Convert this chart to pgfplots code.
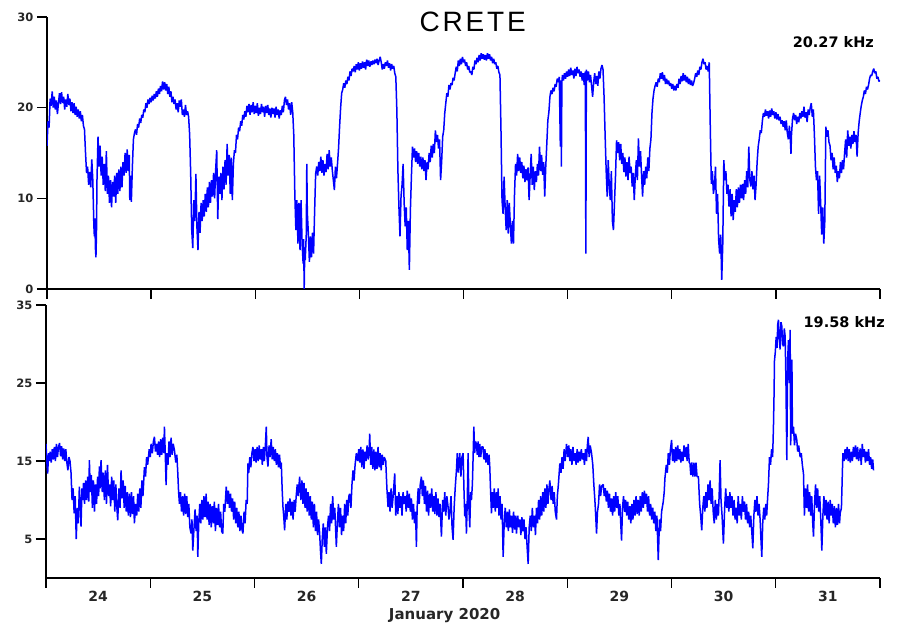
\documentclass[border=0pt]{standalone}
\usepackage{fontspec}
\setmainfont{Liberation Sans}
\newfontfamily\dvb{DejaVu Sans}
\usepackage{pgfplots}
\pgfplotsset{compat=1.18}
\pgfplotsset{
  panel/.style={
    scale only axis, axis lines=left, clip mode=individual,
    axis line style={-, line width=1.4pt, black},
    xmin=0, xmax=8, xtick={0,1,2,3,4,5,6,7,8},
    tick align=outside, major tick length=10pt,
    tick style={line width=1.4pt, black},
    /pgf/number format/assume math mode=true,
    yticklabel style={font=\dvb\bfseries\fontsize{11.5}{12}\selectfont, text=black!85},
    xticklabel style={font=\dvb\bfseries\fontsize{14}{15}\selectfont, text=black!85},
  },
  sig/.style={blue, line width=1.5pt, mark=none, line join=bevel},
}
\begin{document}
\begin{tikzpicture}[x=1pt,y=1pt]
\path[use as bounding box] (0,0) rectangle (900,623);
\begin{axis}[panel, at={(47pt,334pt)}, anchor=south west, width=833pt, height=272pt,
  ymin=0, ymax=30, ytick={0,10,20,30}, xticklabels={}]
\addplot[sig] coordinates {
(0.000,15.8)(0.010,18.5)(0.020,17.8)(0.030,21.0)(0.040,20.2)(0.050,21.8)(0.060,20.0)(0.070,21.2)(0.080,19.8)(0.090,20.8)
(0.100,19.3)(0.110,20.5)(0.120,21.6)(0.130,20.4)(0.140,21.7)(0.150,20.5)(0.160,21.2)(0.170,19.8)(0.180,20.9)(0.190,20.1)
(0.200,21.5)(0.210,20.3)(0.220,21.0)(0.230,19.6)(0.240,20.6)(0.250,19.4)(0.260,20.5)(0.270,19.2)(0.280,20.1)(0.290,19.0)
(0.300,19.8)(0.310,18.8)(0.320,19.6)(0.330,18.5)(0.340,19.2)(0.350,18.0)(0.360,17.6)(0.370,15.0)(0.380,12.8)(0.390,13.5)
(0.400,11.5)(0.410,12.9)(0.420,11.2)(0.430,14.3)(0.440,12.0)(0.450,7.0)(0.455,5.8)(0.460,7.8)(0.465,4.5)(0.470,3.5)
(0.475,6.0)(0.480,12.0)(0.490,16.8)(0.500,13.5)(0.510,15.8)(0.520,12.5)(0.530,14.6)(0.540,11.5)(0.550,13.8)(0.560,10.8)
(0.570,15.2)(0.580,10.5)(0.590,12.5)(0.600,9.5)(0.610,12.0)(0.620,9.0)(0.630,11.8)(0.640,10.2)(0.650,12.5)(0.660,9.5)
(0.670,12.8)(0.680,10.5)(0.690,13.2)(0.700,10.8)(0.710,13.5)(0.720,11.2)(0.730,14.0)(0.740,12.5)(0.750,15.0)(0.760,12.8)
(0.770,15.4)(0.780,13.0)(0.790,14.8)(0.795,9.8)(0.800,12.5)(0.810,9.6)(0.820,13.5)(0.830,16.5)(0.840,17.2)(0.850,17.6)
(0.860,17.0)(0.870,18.2)(0.880,17.8)(0.890,18.8)(0.900,18.3)(0.910,19.2)(0.920,18.9)(0.930,19.8)(0.940,19.5)(0.950,20.5)
(0.960,20.0)(0.970,20.9)(0.980,20.4)(0.990,21.1)(1.000,20.6)(1.010,21.3)(1.020,20.8)(1.030,21.5)(1.040,21.0)(1.050,21.8)
(1.060,21.2)(1.070,22.1)(1.080,21.5)(1.090,22.4)(1.100,21.8)(1.110,22.9)(1.120,22.0)(1.130,22.8)(1.140,21.9)(1.150,22.6)
(1.160,21.5)(1.170,22.3)(1.180,21.2)(1.190,21.8)(1.200,20.6)(1.210,21.2)(1.220,20.4)(1.230,20.9)(1.240,19.8)(1.250,20.5)
(1.260,19.5)(1.270,20.8)(1.280,20.1)(1.290,20.9)(1.300,19.2)(1.310,19.8)(1.320,19.0)(1.330,20.3)(1.340,19.2)(1.350,19.6)
(1.360,19.0)(1.370,17.0)(1.380,12.7)(1.390,6.5)(1.400,4.5)(1.410,9.8)(1.420,7.5)(1.430,12.7)(1.440,6.8)(1.450,4.3)
(1.460,8.5)(1.470,6.2)(1.480,9.5)(1.490,7.5)(1.500,9.8)(1.510,8.0)(1.520,10.5)(1.530,8.5)(1.540,11.2)(1.550,9.0)
(1.560,11.8)(1.570,9.5)(1.580,12.0)(1.590,10.2)(1.600,12.8)(1.610,10.0)(1.620,13.2)(1.630,15.3)(1.640,7.7)(1.650,12.4)
(1.660,10.5)(1.670,12.8)(1.680,9.8)(1.690,13.5)(1.700,11.0)(1.710,14.2)(1.720,11.5)(1.730,16.0)(1.740,12.5)(1.750,14.8)
(1.760,10.5)(1.770,14.5)(1.780,9.8)(1.790,13.8)(1.800,15.3)(1.810,15.0)(1.820,17.0)(1.830,16.5)(1.840,17.8)(1.850,17.4)
(1.860,18.5)(1.870,18.0)(1.880,19.2)(1.890,18.7)(1.900,19.6)(1.910,19.0)(1.920,20.2)(1.930,19.5)(1.940,20.4)(1.950,19.2)
(1.960,20.3)(1.970,19.5)(1.980,20.6)(1.990,19.3)(2.000,20.2)(2.010,19.4)(2.020,20.5)(2.030,19.1)(2.040,20.0)(2.050,19.3)
(2.060,20.4)(2.070,19.5)(2.080,20.1)(2.090,19.0)(2.100,20.2)(2.110,19.4)(2.120,20.3)(2.130,19.2)(2.140,19.9)(2.150,18.9)
(2.160,20.0)(2.170,19.3)(2.180,19.9)(2.190,18.9)(2.200,20.1)(2.210,19.2)(2.220,19.8)(2.230,18.8)(2.240,19.7)(2.250,19.2)
(2.260,20.2)(2.270,19.5)(2.280,20.8)(2.290,21.2)(2.300,20.3)(2.310,20.9)(2.320,19.8)(2.330,20.5)(2.340,19.2)(2.350,20.6)
(2.360,19.5)(2.370,17.0)(2.380,10.5)(2.390,6.5)(2.400,9.8)(2.410,5.0)(2.420,9.5)(2.430,4.3)(2.440,9.8)(2.450,5.0)
(2.460,2.8)(2.465,5.5)(2.470,0.0)(2.475,4.0)(2.480,3.2)(2.490,6.0)(2.495,13.8)(2.500,8.5)(2.510,6.1)(2.520,3.0)
(2.530,5.8)(2.540,3.5)(2.550,6.2)(2.560,3.9)(2.570,8.5)(2.580,12.7)(2.590,13.5)(2.600,12.5)(2.610,14.0)(2.620,13.0)
(2.630,14.6)(2.640,12.8)(2.650,14.2)(2.660,12.5)(2.670,13.8)(2.680,12.9)(2.690,14.9)(2.700,13.2)(2.710,15.3)(2.720,13.5)
(2.730,14.5)(2.740,13.1)(2.750,12.0)(2.760,10.9)(2.770,13.5)(2.780,12.2)(2.790,13.8)(2.800,15.5)(2.810,17.9)(2.820,20.0)
(2.830,21.6)(2.840,22.0)(2.850,22.7)(2.860,22.2)(2.870,23.0)(2.880,22.6)(2.890,23.4)(2.900,23.0)(2.910,24.0)(2.920,23.5)
(2.930,24.3)(2.940,24.0)(2.950,24.6)(2.960,23.9)(2.970,24.8)(2.980,24.2)(2.990,25.0)(3.000,24.1)(3.010,24.9)(3.020,24.3)
(3.030,25.1)(3.040,24.4)(3.050,25.0)(3.060,24.2)(3.070,25.3)(3.080,24.6)(3.090,25.2)(3.100,24.5)(3.110,25.1)(3.120,24.7)
(3.130,25.2)(3.140,24.8)(3.150,25.3)(3.160,24.9)(3.170,25.4)(3.180,24.7)(3.190,25.2)(3.200,25.6)(3.210,25.0)(3.220,24.2)
(3.230,24.8)(3.240,24.3)(3.250,25.0)(3.260,24.6)(3.270,25.2)(3.280,24.4)(3.290,24.9)(3.300,24.1)(3.310,24.8)(3.320,24.3)
(3.330,24.6)(3.340,23.8)(3.350,23.4)(3.360,19.7)(3.370,13.1)(3.380,9.0)(3.390,5.8)(3.400,10.2)(3.410,11.5)(3.420,13.8)
(3.430,9.5)(3.440,6.9)(3.450,9.0)(3.460,4.3)(3.470,7.5)(3.480,2.1)(3.490,8.7)(3.500,12.5)(3.510,15.7)(3.520,14.5)
(3.530,15.5)(3.540,14.0)(3.550,15.2)(3.560,13.8)(3.570,15.0)(3.580,13.5)(3.590,14.6)(3.600,13.2)(3.610,14.5)(3.620,13.0)
(3.630,14.2)(3.640,12.0)(3.650,14.0)(3.660,13.2)(3.670,15.0)(3.680,14.0)(3.690,15.8)(3.700,14.5)(3.710,16.0)(3.720,15.0)
(3.730,17.5)(3.740,16.2)(3.750,17.0)(3.760,15.5)(3.770,16.5)(3.780,12.0)(3.790,14.0)(3.800,16.8)(3.810,17.5)(3.820,19.4)
(3.830,20.5)(3.840,21.6)(3.850,21.2)(3.860,22.5)(3.870,22.0)(3.880,22.7)(3.890,22.5)(3.900,23.3)(3.910,23.0)(3.920,23.8)
(3.930,24.5)(3.940,24.0)(3.950,25.2)(3.960,24.6)(3.970,25.4)(3.980,24.8)(3.990,25.6)(4.000,25.0)(4.010,25.3)(4.020,24.6)
(4.030,25.0)(4.040,24.2)(4.050,24.6)(4.060,23.9)(4.070,24.0)(4.080,23.6)(4.090,24.5)(4.100,24.2)(4.110,25.2)(4.120,24.8)
(4.130,25.5)(4.140,25.0)(4.150,25.8)(4.160,25.2)(4.170,26.0)(4.180,25.4)(4.190,25.9)(4.200,25.3)(4.210,25.8)(4.220,25.2)
(4.230,26.0)(4.240,25.4)(4.250,25.9)(4.260,25.2)(4.270,25.6)(4.280,24.9)(4.290,25.4)(4.300,24.8)(4.310,25.0)(4.320,24.3)
(4.330,24.6)(4.340,23.9)(4.350,23.6)(4.360,17.5)(4.370,9.8)(4.380,8.3)(4.390,12.4)(4.400,9.0)(4.410,6.5)(4.420,9.8)
(4.430,6.1)(4.440,9.5)(4.450,7.0)(4.460,5.0)(4.470,7.5)(4.480,5.0)(4.490,10.5)(4.500,13.8)(4.510,12.5)(4.520,14.9)
(4.530,13.0)(4.540,14.5)(4.550,12.8)(4.560,14.0)(4.570,12.2)(4.580,13.6)(4.590,11.8)(4.600,13.2)(4.610,12.0)(4.620,13.4)
(4.630,9.8)(4.640,12.5)(4.650,14.9)(4.660,11.5)(4.670,13.5)(4.680,10.9)(4.690,13.0)(4.700,11.8)(4.710,13.8)(4.720,12.5)
(4.730,15.7)(4.740,13.0)(4.750,14.8)(4.760,12.6)(4.770,14.0)(4.780,10.2)(4.790,13.5)(4.800,16.0)(4.810,18.6)(4.820,19.5)
(4.830,21.2)(4.840,21.9)(4.850,21.5)(4.860,22.2)(4.870,21.8)(4.880,22.6)(4.890,22.3)(4.900,23.2)(4.910,22.8)(4.920,23.4)
(4.930,15.7)(4.935,23.0)(4.940,13.5)(4.945,22.8)(4.950,23.6)(4.960,23.0)(4.970,23.8)(4.980,23.2)(4.990,24.0)(5.000,23.4)
(5.010,24.2)(5.020,23.5)(5.030,24.4)(5.040,23.6)(5.050,24.1)(5.060,23.2)(5.070,24.3)(5.080,23.5)(5.090,24.5)(5.100,23.8)
(5.110,24.2)(5.120,23.4)(5.130,24.0)(5.140,23.0)(5.150,23.8)(5.160,22.5)(5.170,24.0)(5.175,3.9)(5.180,24.2)(5.190,23.0)
(5.200,24.0)(5.210,22.8)(5.220,23.6)(5.230,22.4)(5.240,21.2)(5.250,22.8)(5.260,23.8)(5.270,22.6)(5.280,23.5)(5.290,22.4)
(5.300,24.0)(5.310,23.2)(5.320,24.3)(5.330,24.7)(5.340,24.2)(5.350,21.2)(5.360,17.0)(5.370,13.1)(5.380,10.2)(5.390,14.2)
(5.400,11.3)(5.410,9.8)(5.420,13.0)(5.430,7.5)(5.440,6.5)(5.450,9.5)(5.460,12.5)(5.470,16.4)(5.480,15.0)(5.490,16.2)
(5.500,14.2)(5.510,16.0)(5.520,13.8)(5.530,15.0)(5.540,12.9)(5.550,14.5)(5.560,12.4)(5.570,14.0)(5.580,12.0)(5.590,14.6)
(5.600,12.8)(5.610,13.5)(5.620,11.3)(5.630,12.8)(5.640,9.8)(5.650,12.5)(5.660,14.2)(5.670,12.0)(5.680,16.6)(5.690,13.5)
(5.700,15.2)(5.710,12.6)(5.720,10.2)(5.730,13.0)(5.740,11.5)(5.750,13.5)(5.760,12.2)(5.770,14.5)(5.780,13.0)(5.790,15.5)
(5.800,16.5)(5.810,19.4)(5.820,21.0)(5.830,21.9)(5.840,22.4)(5.850,22.8)(5.860,22.3)(5.870,23.2)(5.880,22.8)(5.890,23.8)
(5.900,23.2)(5.910,23.9)(5.920,23.0)(5.930,23.6)(5.940,22.6)(5.950,23.2)(5.960,22.6)(5.970,23.0)(5.980,22.4)(5.990,22.7)
(6.000,22.1)(6.010,22.6)(6.020,21.9)(6.030,22.4)(6.040,21.9)(6.050,22.6)(6.060,22.2)(6.070,23.2)(6.080,22.6)(6.090,23.5)
(6.100,22.9)(6.110,23.8)(6.120,23.0)(6.130,23.6)(6.140,22.8)(6.150,23.4)(6.160,22.6)(6.170,23.2)(6.180,22.5)(6.190,23.0)
(6.200,22.4)(6.210,22.7)(6.220,23.2)(6.230,23.8)(6.240,23.4)(6.250,24.1)(6.260,23.6)(6.270,24.5)(6.280,24.2)(6.290,25.0)
(6.300,25.4)(6.310,24.8)(6.320,25.0)(6.330,24.2)(6.340,24.6)(6.350,24.0)(6.360,25.0)(6.370,17.9)(6.380,11.6)(6.390,13.0)
(6.400,10.5)(6.410,11.3)(6.420,13.5)(6.430,8.3)(6.440,10.5)(6.450,5.5)(6.460,3.9)(6.470,6.0)(6.480,1.0)(6.490,5.0)
(6.500,14.2)(6.510,12.0)(6.520,13.0)(6.530,10.5)(6.540,11.5)(6.550,9.1)(6.560,11.0)(6.570,8.0)(6.580,10.5)(6.590,7.6)
(6.600,9.8)(6.610,8.5)(6.620,11.0)(6.630,9.0)(6.640,11.2)(6.650,9.5)(6.660,11.5)(6.670,10.0)(6.680,11.6)(6.690,9.8)
(6.700,12.0)(6.710,10.5)(6.720,13.0)(6.730,11.2)(6.740,15.7)(6.750,12.0)(6.760,11.3)(6.770,13.0)(6.780,11.0)(6.790,12.5)
(6.800,9.8)(6.810,11.5)(6.820,14.0)(6.830,15.7)(6.840,16.5)(6.850,17.5)(6.860,17.2)(6.870,18.5)(6.880,19.4)(6.890,19.0)
(6.900,19.8)(6.910,19.1)(6.920,19.6)(6.930,18.8)(6.940,19.7)(6.950,19.0)(6.960,19.9)(6.970,19.2)(6.980,19.6)(6.990,18.8)
(7.000,19.5)(7.010,18.7)(7.020,19.3)(7.030,18.6)(7.040,19.0)(7.050,18.2)(7.060,18.6)(7.070,17.9)(7.080,18.5)(7.090,17.5)
(7.100,18.6)(7.110,17.2)(7.120,16.5)(7.130,18.0)(7.140,16.2)(7.145,14.9)(7.150,17.0)(7.160,18.8)(7.170,19.4)(7.180,18.6)
(7.190,19.2)(7.200,18.2)(7.210,19.0)(7.220,18.4)(7.230,19.4)(7.240,18.8)(7.250,19.6)(7.260,19.0)(7.270,20.1)(7.280,18.9)
(7.290,19.5)(7.300,18.4)(7.310,19.8)(7.320,19.2)(7.330,20.0)(7.340,20.5)(7.350,19.0)(7.360,19.8)(7.370,17.0)(7.380,13.5)
(7.390,12.0)(7.400,13.0)(7.410,8.3)(7.420,12.5)(7.430,9.5)(7.440,6.0)(7.450,9.0)(7.460,5.0)(7.470,7.5)(7.480,17.9)
(7.490,16.8)(7.500,17.5)(7.510,16.2)(7.520,15.8)(7.530,14.2)(7.540,15.0)(7.550,13.2)(7.560,14.5)(7.570,12.8)(7.580,13.6)
(7.590,11.8)(7.600,13.0)(7.610,12.2)(7.620,14.0)(7.630,12.8)(7.640,14.2)(7.650,13.2)(7.660,15.0)(7.670,16.5)(7.680,14.5)
(7.690,17.5)(7.700,15.8)(7.710,16.8)(7.720,15.5)(7.730,17.0)(7.740,16.0)(7.750,17.4)(7.760,16.2)(7.770,17.0)(7.780,14.6)
(7.790,17.2)(7.800,18.5)(7.810,19.4)(7.820,20.2)(7.830,20.8)(7.840,21.2)(7.850,21.9)(7.860,21.5)(7.870,22.3)(7.880,22.0)
(7.890,22.5)(7.900,23.2)(7.910,23.6)(7.920,23.5)(7.930,24.0)(7.940,24.3)(7.950,23.8)(7.960,24.0)(7.970,23.2)(7.980,23.4)
(7.990,22.9)(8.000,23.0)
};
\node at (rel axis cs:0.511,0.982) {\fontsize{28}{30}\selectfont\addfontfeature{LetterSpace=10}CRETE};
\node at (rel axis cs:0.944,0.908) {\dvb\bfseries\fontsize{14.5}{16}\selectfont 20.27 kHz};
\end{axis}
\begin{axis}[panel, at={(46pt,45pt)}, anchor=south west, width=834pt, height=273pt,
  ymin=0, ymax=35, ytick={5,15,25,35},
  xticklabels={24,25,26,27,28,29,30,31}, x tick label as interval,
  xlabel={January 2020},
  xlabel style={at={(rel axis cs:0.478,-0.136)}, anchor=center, font=\dvb\bfseries\fontsize{15}{16}\selectfont, text=black!85}]
\addplot[sig] coordinates {
(0.000,17.2)(0.010,14.5)(0.016,13.4)(0.025,16.0)(0.032,15.0)(0.040,16.2)(0.050,14.8)(0.060,16.5)(0.070,15.2)(0.080,16.8)
(0.090,15.0)(0.100,17.2)(0.110,15.5)(0.120,16.8)(0.130,17.3)(0.140,15.6)(0.150,16.9)(0.160,15.2)(0.170,16.6)(0.180,15.0)
(0.190,16.5)(0.200,14.8)(0.210,13.8)(0.220,15.5)(0.230,15.0)(0.240,13.5)(0.250,10.0)(0.260,11.5)(0.270,8.3)(0.280,10.5)
(0.290,5.0)(0.300,9.0)(0.310,7.0)(0.320,11.7)(0.330,9.0)(0.336,6.6)(0.345,11.5)(0.352,10.0)(0.360,12.2)(0.370,9.5)
(0.380,12.5)(0.390,10.0)(0.400,13.0)(0.410,9.8)(0.416,15.1)(0.425,11.0)(0.435,13.2)(0.445,9.0)(0.455,12.5)(0.465,8.5)
(0.475,12.0)(0.485,9.5)(0.495,13.0)(0.505,10.5)(0.512,14.3)(0.520,11.5)(0.528,15.1)(0.540,11.0)(0.550,13.5)(0.560,10.0)
(0.570,13.8)(0.580,9.5)(0.590,14.5)(0.600,10.5)(0.610,12.0)(0.620,9.2)(0.630,13.0)(0.640,10.0)(0.650,12.5)(0.660,8.5)
(0.670,12.0)(0.680,9.0)(0.688,7.4)(0.700,11.5)(0.710,9.0)(0.720,13.8)(0.730,10.2)(0.740,12.5)(0.750,9.0)(0.760,11.8)
(0.770,8.5)(0.780,11.0)(0.790,8.0)(0.800,10.8)(0.810,7.8)(0.820,11.0)(0.830,8.2)(0.840,10.5)(0.848,7.0)(0.860,9.5)
(0.870,8.0)(0.880,10.8)(0.890,8.5)(0.900,11.5)(0.910,9.0)(0.920,12.5)(0.930,10.5)(0.944,14.2)(0.955,13.0)(0.965,15.5)
(0.975,14.5)(0.990,16.5)(1.000,15.5)(1.008,17.2)(1.020,16.0)(1.030,17.5)(1.040,18.1)(1.050,16.2)(1.060,17.2)(1.070,15.8)
(1.080,17.5)(1.090,15.5)(1.100,17.8)(1.110,15.8)(1.120,18.0)(1.130,16.0)(1.136,19.4)(1.145,15.5)(1.152,11.9)(1.160,16.0)
(1.170,14.5)(1.180,17.5)(1.190,15.5)(1.200,18.0)(1.210,15.8)(1.220,17.2)(1.232,16.4)(1.245,14.8)(1.255,15.8)(1.264,13.5)
(1.272,11.0)(1.280,9.5)(1.290,11.0)(1.300,8.5)(1.310,10.5)(1.320,8.0)(1.330,10.8)(1.340,8.2)(1.350,10.5)(1.360,7.8)
(1.370,9.5)(1.380,6.5)(1.392,5.7)(1.400,7.5)(1.408,3.5)(1.420,6.5)(1.430,8.8)(1.440,6.0)(1.450,8.0)(1.456,2.7)
(1.465,7.0)(1.475,9.5)(1.485,7.0)(1.495,10.0)(1.505,7.5)(1.515,10.5)(1.525,7.8)(1.536,10.8)(1.545,7.5)(1.555,9.8)
(1.565,6.8)(1.575,9.5)(1.585,6.5)(1.595,9.2)(1.605,7.0)(1.615,9.8)(1.625,6.0)(1.635,9.0)(1.645,6.8)(1.655,9.5)
(1.665,6.5)(1.675,8.5)(1.685,6.0)(1.696,5.7)(1.705,9.5)(1.715,8.5)(1.729,11.7)(1.740,9.5)(1.750,11.2)(1.760,9.0)
(1.770,10.8)(1.780,8.5)(1.790,10.2)(1.800,7.5)(1.810,9.8)(1.820,7.0)(1.830,9.0)(1.840,6.5)(1.850,8.5)(1.860,6.0)
(1.870,8.0)(1.880,6.2)(1.889,5.7)(1.900,8.5)(1.910,7.0)(1.920,10.0)(1.930,9.5)(1.937,14.7)(1.945,13.5)(1.955,15.5)
(1.965,14.2)(1.975,16.0)(1.985,16.8)(1.995,15.0)(2.005,16.5)(2.015,14.8)(2.025,16.8)(2.035,15.0)(2.045,17.0)(2.055,15.2)
(2.065,16.5)(2.075,14.5)(2.085,16.8)(2.095,15.0)(2.105,17.2)(2.113,19.4)(2.120,15.5)(2.129,14.3)(2.140,17.0)(2.150,15.5)
(2.160,17.8)(2.170,15.2)(2.180,16.8)(2.190,15.0)(2.200,16.5)(2.210,14.5)(2.220,16.0)(2.230,14.2)(2.240,15.8)(2.250,14.0)
(2.257,14.8)(2.265,11.5)(2.273,9.1)(2.280,8.0)(2.289,6.1)(2.300,9.5)(2.310,7.5)(2.320,9.8)(2.330,8.5)(2.340,10.2)
(2.350,8.0)(2.360,9.8)(2.370,7.5)(2.380,10.0)(2.390,8.5)(2.400,10.5)(2.410,12.0)(2.420,10.5)(2.433,13.0)(2.445,10.0)
(2.455,12.5)(2.465,9.5)(2.475,12.2)(2.485,9.0)(2.495,11.5)(2.505,8.5)(2.515,11.0)(2.525,8.0)(2.535,10.5)(2.545,7.5)
(2.555,9.8)(2.565,6.5)(2.575,9.5)(2.585,6.0)(2.595,8.5)(2.605,5.5)(2.615,7.5)(2.625,5.7)(2.633,3.5)(2.641,1.8)
(2.650,5.0)(2.660,7.0)(2.670,4.0)(2.680,6.5)(2.689,3.1)(2.700,6.5)(2.710,8.0)(2.720,6.0)(2.730,9.5)(2.740,7.0)
(2.750,10.5)(2.760,7.5)(2.770,9.0)(2.785,4.0)(2.795,7.0)(2.805,9.5)(2.815,6.5)(2.825,9.0)(2.835,5.5)(2.845,8.0)
(2.855,6.0)(2.865,9.5)(2.875,7.0)(2.885,10.0)(2.895,8.0)(2.905,10.5)(2.913,10.8)(2.925,9.0)(2.935,12.0)(2.945,13.8)
(2.955,12.5)(2.965,14.5)(2.977,16.0)(2.990,15.0)(3.000,16.5)(3.010,14.8)(3.020,16.8)(3.030,14.2)(3.040,16.5)(3.050,14.0)
(3.060,16.2)(3.070,15.0)(3.080,17.0)(3.090,15.2)(3.100,16.5)(3.105,18.5)(3.115,14.5)(3.125,16.8)(3.135,14.0)(3.145,16.5)
(3.155,13.8)(3.165,16.2)(3.175,14.0)(3.185,16.8)(3.195,14.2)(3.205,16.0)(3.215,13.8)(3.225,15.8)(3.235,14.5)(3.245,15.5)
(3.259,15.0)(3.270,11.5)(3.281,9.1)(3.290,11.0)(3.300,8.5)(3.310,11.5)(3.320,9.0)(3.330,10.5)(3.345,13.4)(3.355,8.0)
(3.365,10.5)(3.375,8.2)(3.385,11.0)(3.395,9.0)(3.405,10.5)(3.415,8.0)(3.425,11.0)(3.435,9.5)(3.445,10.5)(3.455,8.5)
(3.465,11.2)(3.475,9.0)(3.485,10.8)(3.495,8.5)(3.505,10.2)(3.515,7.5)(3.525,9.5)(3.535,7.0)(3.545,8.5)(3.553,4.0)
(3.560,9.0)(3.570,11.5)(3.580,9.5)(3.590,12.0)(3.601,13.0)(3.610,10.5)(3.620,12.5)(3.630,9.5)(3.640,11.8)(3.650,8.5)
(3.660,11.2)(3.670,8.0)(3.680,10.8)(3.690,9.0)(3.700,11.5)(3.710,8.5)(3.720,10.5)(3.730,8.2)(3.740,11.0)(3.750,8.0)
(3.760,10.2)(3.770,7.8)(3.780,9.5)(3.793,5.3)(3.805,10.0)(3.815,8.5)(3.825,11.0)(3.835,8.0)(3.845,10.5)(3.857,9.1)
(3.865,7.5)(3.873,8.3)(3.885,10.5)(3.895,6.5)(3.905,4.9)(3.915,9.0)(3.925,11.5)(3.937,13.8)(3.945,16.0)(3.955,13.5)
(3.969,16.0)(3.980,13.0)(3.990,15.5)(4.001,16.0)(4.010,11.0)(4.017,7.9)(4.025,9.5)(4.033,5.7)(4.041,10.0)(4.049,16.0)
(4.057,9.0)(4.065,6.5)(4.073,11.0)(4.081,10.0)(4.090,12.0)(4.097,15.5)(4.104,19.4)(4.112,16.0)(4.120,17.5)(4.129,17.2)
(4.137,15.8)(4.145,17.5)(4.153,15.5)(4.161,17.2)(4.170,15.5)(4.180,16.8)(4.193,16.8)(4.200,15.2)(4.210,16.5)(4.220,14.8)
(4.230,16.0)(4.240,14.5)(4.250,15.8)(4.257,14.2)(4.265,11.0)(4.273,8.3)(4.282,11.0)(4.290,9.0)(4.300,11.5)(4.310,8.5)
(4.320,11.0)(4.330,9.0)(4.337,11.5)(4.345,8.0)(4.355,10.5)(4.365,7.5)(4.375,9.5)(4.385,2.7)(4.395,7.0)(4.405,9.0)
(4.415,6.5)(4.425,8.5)(4.435,6.0)(4.445,8.8)(4.455,6.5)(4.465,8.0)(4.475,5.8)(4.485,8.5)(4.495,6.2)(4.505,8.0)
(4.513,5.7)(4.525,8.0)(4.535,6.5)(4.545,7.5)(4.555,5.5)(4.565,7.8)(4.575,6.0)(4.585,7.5)(4.595,5.0)(4.605,6.5)
(4.615,4.0)(4.625,1.8)(4.635,6.5)(4.645,8.0)(4.655,6.0)(4.665,9.0)(4.675,6.5)(4.685,8.0)(4.695,5.5)(4.705,9.0)
(4.715,7.0)(4.725,10.0)(4.735,7.5)(4.745,10.5)(4.755,8.0)(4.765,11.0)(4.775,8.5)(4.785,11.5)(4.795,9.0)(4.805,12.0)
(4.815,9.5)(4.825,11.5)(4.833,12.5)(4.845,10.0)(4.855,11.8)(4.865,9.5)(4.875,11.0)(4.885,8.5)(4.897,7.5)(4.905,10.5)
(4.915,12.0)(4.929,14.7)(4.940,13.5)(4.950,15.5)(4.960,14.0)(4.970,16.5)(4.980,15.0)(4.993,17.2)(5.005,15.5)(5.015,17.0)
(5.025,15.0)(5.035,16.5)(5.045,14.5)(5.055,16.8)(5.065,15.0)(5.075,16.0)(5.085,14.5)(5.095,16.5)(5.105,14.8)(5.115,16.2)
(5.125,15.0)(5.135,16.5)(5.145,15.2)(5.155,16.0)(5.165,14.5)(5.175,16.5)(5.185,15.0)(5.193,17.0)(5.201,18.1)(5.210,15.5)
(5.220,17.0)(5.233,16.0)(5.245,14.5)(5.255,12.0)(5.265,10.0)(5.273,8.0)(5.281,5.7)(5.290,8.5)(5.300,9.5)(5.310,12.0)
(5.320,10.5)(5.330,11.8)(5.345,12.0)(5.355,10.5)(5.365,11.5)(5.375,9.8)(5.385,11.2)(5.395,9.0)(5.405,10.8)(5.415,8.5)
(5.425,10.2)(5.435,8.0)(5.445,10.5)(5.455,8.5)(5.465,11.0)(5.475,9.0)(5.485,10.5)(5.495,8.0)(5.505,9.5)(5.513,7.0)
(5.521,4.8)(5.530,9.0)(5.540,10.5)(5.550,8.5)(5.560,10.0)(5.570,8.0)(5.580,9.8)(5.590,7.5)(5.600,9.2)(5.610,7.0)
(5.620,9.5)(5.630,7.5)(5.640,10.0)(5.650,8.0)(5.660,10.5)(5.670,8.2)(5.680,10.0)(5.690,8.0)(5.700,10.5)(5.710,8.5)
(5.720,11.0)(5.730,9.0)(5.740,11.2)(5.750,9.5)(5.760,10.8)(5.770,8.5)(5.780,10.5)(5.790,8.0)(5.800,9.5)(5.810,7.5)
(5.820,9.0)(5.830,7.0)(5.840,8.5)(5.850,6.0)(5.860,8.0)(5.873,2.3)(5.885,7.5)(5.895,6.0)(5.905,8.5)(5.921,9.8)
(5.930,11.0)(5.937,12.8)(5.950,14.5)(5.960,13.5)(5.969,16.0)(5.980,14.5)(5.990,16.5)(6.001,17.7)(6.010,15.0)(6.020,16.5)
(6.030,14.8)(6.040,16.8)(6.050,15.0)(6.060,17.0)(6.070,15.2)(6.080,16.5)(6.090,14.8)(6.100,16.2)(6.110,15.0)(6.120,17.0)
(6.130,15.5)(6.140,16.8)(6.150,15.0)(6.160,17.2)(6.170,14.8)(6.177,14.7)(6.185,13.2)(6.195,14.8)(6.205,13.0)(6.215,14.8)
(6.225,13.0)(6.235,14.8)(6.245,13.0)(6.258,13.0)(6.270,9.5)(6.280,8.0)(6.290,6.1)(6.300,9.0)(6.310,10.5)(6.320,8.5)
(6.330,11.0)(6.340,9.0)(6.350,12.0)(6.360,10.0)(6.370,12.5)(6.380,9.5)(6.390,11.5)(6.400,8.5)(6.410,7.0)(6.420,10.0)
(6.430,7.5)(6.440,9.5)(6.450,8.0)(6.458,11.0)(6.466,15.1)(6.475,10.0)(6.485,8.0)(6.498,4.4)(6.510,9.0)(6.520,11.5)
(6.530,9.0)(6.540,10.5)(6.550,8.5)(6.560,11.0)(6.570,9.0)(6.580,10.5)(6.590,8.0)(6.600,10.0)(6.610,7.5)(6.620,9.0)
(6.630,7.0)(6.640,10.5)(6.650,8.0)(6.660,9.5)(6.670,7.5)(6.680,10.5)(6.690,8.5)(6.700,9.8)(6.710,7.5)(6.720,9.5)
(6.730,7.0)(6.740,8.5)(6.750,6.5)(6.760,8.0)(6.770,6.0)(6.780,3.8)(6.790,8.0)(6.800,10.0)(6.810,8.5)(6.820,10.5)
(6.830,8.0)(6.840,9.5)(6.850,7.5)(6.858,5.0)(6.866,2.7)(6.875,7.0)(6.885,9.0)(6.895,7.5)(6.905,9.5)(6.913,8.0)
(6.921,10.0)(6.930,12.0)(6.940,15.5)(6.950,14.5)(6.960,16.5)(6.970,15.5)(6.978,19.4)(6.983,23.0)(6.988,27.9)(6.996,29.0)
(7.004,30.9)(7.012,29.5)(7.019,32.5)(7.026,33.1)(7.034,30.5)(7.042,29.3)(7.050,32.8)(7.058,32.3)(7.066,30.0)(7.074,29.7)
(7.082,32.0)(7.090,31.0)(7.098,25.0)(7.106,15.1)(7.114,28.0)(7.122,30.5)(7.130,25.0)(7.138,31.8)(7.143,17.0)(7.148,20.2)
(7.155,28.0)(7.160,18.5)(7.170,19.4)(7.180,17.0)(7.190,18.5)(7.202,17.7)(7.210,16.2)(7.220,17.0)(7.234,15.5)(7.245,16.0)
(7.255,14.5)(7.266,13.4)(7.275,8.0)(7.285,11.5)(7.295,9.0)(7.305,12.0)(7.315,8.5)(7.325,11.0)(7.335,8.0)(7.345,10.5)
(7.355,7.0)(7.362,5.3)(7.372,9.5)(7.382,12.0)(7.392,9.0)(7.402,11.5)(7.412,8.5)(7.422,10.5)(7.432,7.5)(7.442,3.5)
(7.452,8.0)(7.462,10.5)(7.472,8.0)(7.482,10.0)(7.492,7.5)(7.502,9.8)(7.512,7.0)(7.522,10.0)(7.532,8.0)(7.542,9.5)
(7.552,7.0)(7.562,9.2)(7.572,6.5)(7.582,9.0)(7.592,6.8)(7.602,9.5)(7.612,7.0)(7.618,8.3)(7.630,9.0)(7.644,16.0)
(7.655,15.0)(7.665,16.5)(7.675,15.2)(7.685,16.8)(7.695,15.0)(7.705,16.5)(7.715,14.8)(7.725,16.2)(7.735,15.0)(7.745,16.8)
(7.755,15.5)(7.765,17.0)(7.775,15.2)(7.785,16.8)(7.795,15.0)(7.810,16.6)(7.820,14.5)(7.830,17.2)(7.840,15.5)(7.850,16.5)
(7.860,14.8)(7.870,16.2)(7.880,15.0)(7.890,16.5)(7.900,14.5)(7.910,15.5)(7.920,14.0)(7.930,15.2)(7.938,13.8)
};
\node at (rel axis cs:0.957,0.938) {\dvb\bfseries\fontsize{14.5}{16}\selectfont 19.58 kHz};
\end{axis}
\end{tikzpicture}
\end{document}
